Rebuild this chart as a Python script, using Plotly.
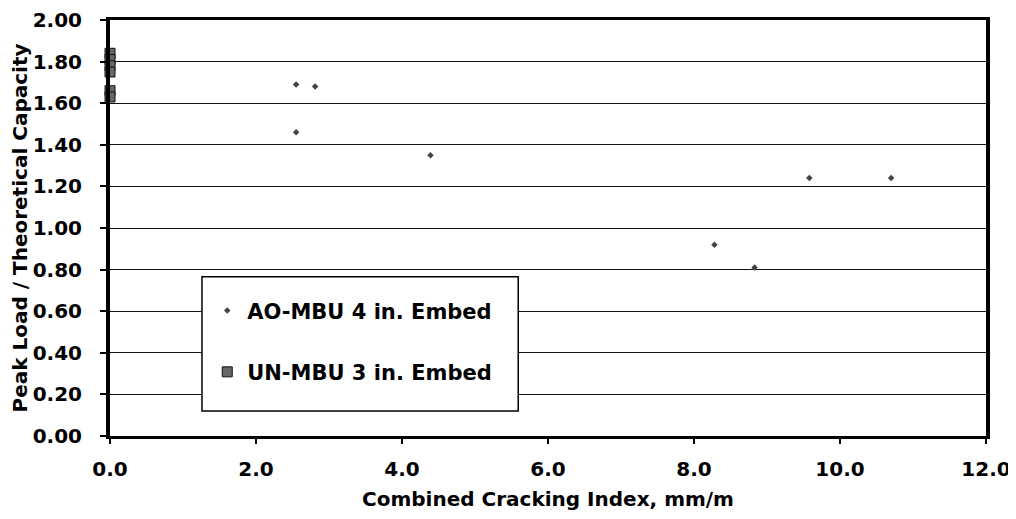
import plotly.graph_objects as go

# Data
ao_x = [2.55, 2.81, 2.55, 4.39, 9.58, 10.70, 8.28, 8.83]
ao_y = [1.69, 1.68, 1.46, 1.35, 1.24, 1.24, 0.92, 0.81]
un_x = [0.0, 0.0, 0.0, 0.0, 0.0, 0.0]
un_y = [1.84, 1.81, 1.78, 1.75, 1.66, 1.63]

x_ticks = [0, 2, 4, 6, 8, 10, 12]
y_ticks = [0.0, 0.2, 0.4, 0.6, 0.8, 1.0, 1.2, 1.4, 1.6, 1.8, 2.0]

font_family = "DejaVu Sans, Liberation Sans, Arial, sans-serif"

fig = go.Figure()
fig.add_trace(go.Scatter(
    x=ao_x, y=ao_y, mode="markers", name="AO-MBU 4 in. Embed",
    legendgroup="a",
    marker=dict(symbol="diamond", size=5, color="#444444"),
    cliponaxis=False,
))
fig.add_trace(go.Scatter(
    x=un_x, y=un_y, mode="markers", name="UN-MBU 3 in. Embed",
    legendgroup="b",
    marker=dict(symbol="square", size=10, color="#666666",
                line=dict(color="#111111", width=1)),
    cliponaxis=False,
))

# legend frame (box behind the legend entries)
fig.add_shape(type="rect", xref="paper", yref="paper",
              x0=0.105, x1=0.466, y0=0.060, y1=0.383,
              fillcolor="white", line=dict(color="black", width=1.5),
              layer="above")

# the page body adds an 8px offset, so the figure is sized 1008x511
fig.update_layout(
    width=1008, height=511,
    margin=dict(l=102, r=30, t=12, b=83),
    paper_bgcolor="white", plot_bgcolor="white",
    font=dict(family=font_family, size=20, color="black"),
    showlegend=True,
    legend=dict(
        x=0.111, y=0.350, xanchor="left", yanchor="top",
        bgcolor="rgba(0,0,0,0)", borderwidth=0,
        font=dict(family=font_family, size=21, color="black", weight="bold"),
        tracegroupgap=31,
        itemsizing="trace",
    ),
    xaxis=dict(
        range=[0, 12], tickvals=x_ticks, tickformat=".1f",
        showgrid=False, zeroline=False, automargin=False,
        showline=True, linecolor="black", linewidth=3, mirror=True,
        ticks="outside", ticklen=5, tickcolor="black", tickwidth=2,
        ticklabelstandoff=8, ticklabeloverflow="allow",
        tickfont=dict(family=font_family, size=20, weight="bold"),
        title=dict(text="Combined Cracking Index, mm/m", standoff=12,
                   font=dict(family=font_family, size=20, weight="bold")),
    ),
    yaxis=dict(
        range=[0, 2.0], tickvals=y_ticks, tickformat=".2f",
        showgrid=True, gridcolor="#111111", gridwidth=1,
        zeroline=False, automargin=False,
        showline=True, linecolor="black", linewidth=4, mirror=True,
        ticks="outside", ticklen=6, tickcolor="black", tickwidth=2,
        ticklabelstandoff=14, ticklabeloverflow="allow",
        tickfont=dict(family=font_family, size=20, weight="bold"),
        title=dict(text="Peak Load / Theoretical Capacity", standoff=10,
                   font=dict(family=font_family, size=20, weight="bold")),
    ),
)

fig.write_html("out.html")
